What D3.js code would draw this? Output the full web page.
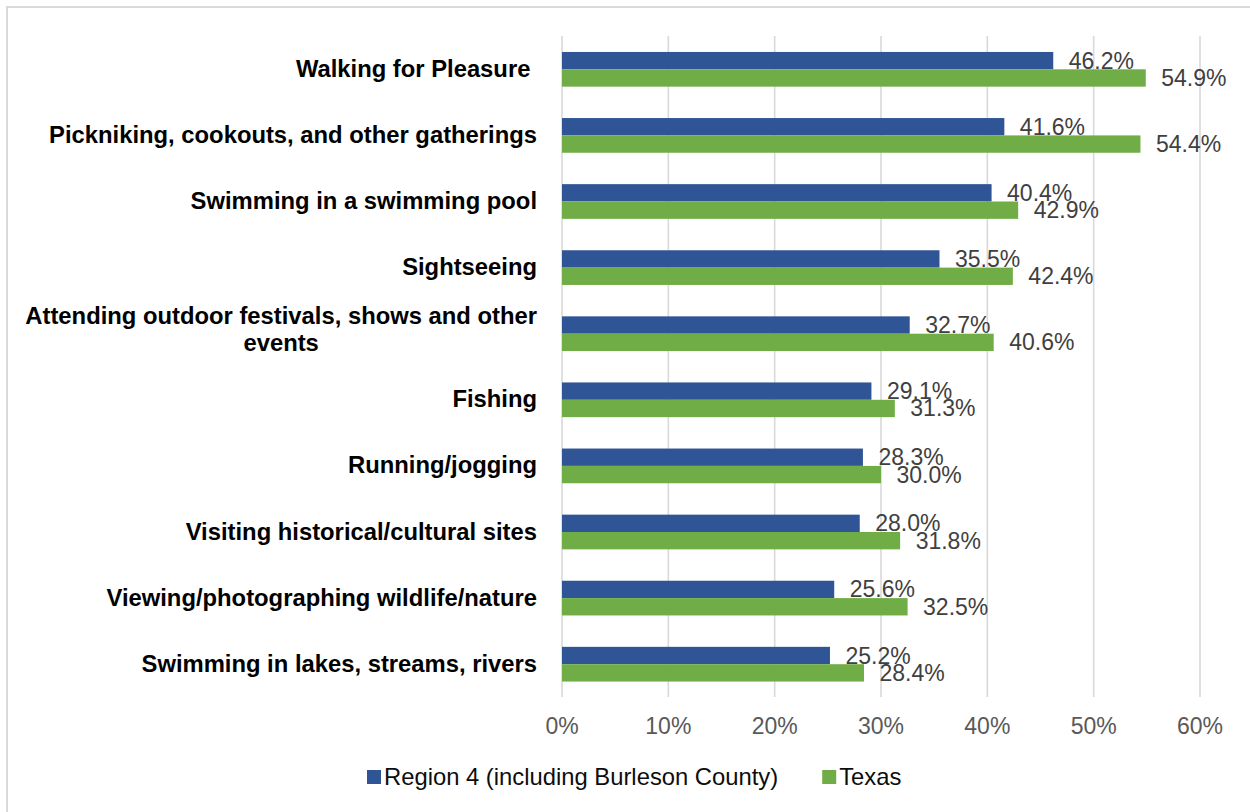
<!DOCTYPE html>
<html>
<head>
<meta charset="utf-8">
<script src="https://cdn.jsdelivr.net/npm/d3@7"></script>
<style>
  html, body { margin: 0; padding: 0; background: #fff; }
  svg { display: block; }
  text { font-family: "Liberation Sans", Arial, sans-serif; }
</style>
</head>
<body>
<svg id="chart" width="1250" height="812"></svg>
<script>
// Outdoor activities: share of respondents participating
const categories = [
  "Walking for Pleasure ",
  "Pickniking, cookouts, and other gatherings",
  "Swimming in a swimming pool",
  "Sightseeing",
  "Attending outdoor festivals, shows and other events",
  "Fishing",
  "Running/jogging",
  "Visiting historical/cultural sites",
  "Viewing/photographing wildlife/nature",
  "Swimming in lakes, streams, rivers"
];
const seriesNames = ["Region 4 (including Burleson County)", "Texas"];
const regionValues = [46.2, 41.6, 40.4, 35.5, 32.7, 29.1, 28.3, 28.0, 25.6, 25.2];
const texasValues  = [54.9, 54.4, 42.9, 42.4, 40.6, 31.3, 30.0, 31.8, 32.5, 28.4];
const xTicks = [0, 10, 20, 30, 40, 50, 60];

const colors = ["#2F5597", "#70AD47"];
const seriesValues = [regionValues, texasValues];

const svg = d3.select("#chart");
const W = 1250, H = 812;
const catFont = 23.8, legendFont = 23.8, valueFont = 23, tickFont = 23;

svg.append("rect").attr("width", W).attr("height", H).attr("fill", "#fff");
// chart frame
svg.append("rect")
  .attr("x", 7).attr("y", 7).attr("width", W).attr("height", H)
  .attr("fill", "none").attr("stroke", "#d9d9d9").attr("stroke-width", 2);

const x = d3.scaleLinear().domain([0, 60]).range([562, 1200]);
const y = d3.scaleBand().domain(categories)
  .range([36.25, 697.25]).paddingInner(0.475).paddingOuter(0.2375);
const ySub = d3.scaleBand().domain(seriesNames).range([0, y.bandwidth()]);

// vertical gridlines
svg.append("g").selectAll("line").data(xTicks).join("line")
  .attr("x1", d => x(d)).attr("x2", d => x(d))
  .attr("y1", 36).attr("y2", 697)
  .attr("stroke", "#d9d9d9").attr("stroke-width", 1.6);

// x tick labels
svg.append("g").selectAll("text").data(xTicks).join("text")
  .attr("x", d => x(d)).attr("y", 734)
  .attr("text-anchor", "middle")
  .attr("font-size", tickFont).attr("fill", "#595959")
  .text(d => d + "%");

// bars
seriesNames.forEach((s, si) => {
  const vals = seriesValues[si];
  svg.append("g").selectAll("rect").data(categories).join("rect")
    .attr("x", x(0))
    .attr("y", c => y(c) + ySub(s))
    .attr("width", (c, i) => x(vals[i]) - x(0))
    .attr("height", ySub.bandwidth())
    .attr("fill", colors[si]);
});

// value labels
seriesNames.forEach((s, si) => {
  const vals = seriesValues[si];
  svg.append("g").selectAll("text").data(categories).join("text")
    .attr("x", (c, i) => x(vals[i]) + 15.5)
    .attr("y", c => y(c) + ySub(s) + ySub.bandwidth() / 2 + 8)
    .attr("font-size", valueFont).attr("fill", "#404040")
    .text((c, i) => vals[i].toFixed(1) + "%");
});

// category labels, wrapped to the label column width
const labelRight = 537, labelMaxWidth = 520, lineHeight = 27.5;
const catG = svg.append("g");
categories.forEach(c => {
  const cy = y(c) + y.bandwidth() / 2;
  const probe = catG.append("text").attr("font-size", catFont).attr("font-weight", "bold")
    .style("white-space", "pre");
  const words = c.split(" ");
  const lines = [];
  let cur = "";
  words.forEach(w => {
    const trial = cur ? cur + " " + w : w;
    probe.text(trial);
    if (cur && probe.node().getComputedTextLength() > labelMaxWidth) {
      lines.push(cur);
      cur = w;
    } else {
      cur = trial;
    }
  });
  lines.push(cur);
  probe.remove();

  if (lines.length === 1) {
    catG.append("text")
      .attr("x", labelRight).attr("y", cy + 7.5)
      .attr("text-anchor", "end")
      .attr("font-size", catFont).attr("font-weight", "bold").attr("fill", "#000")
      .style("white-space", "pre")
      .text(lines[0]);
  } else {
    // multi-line labels are centred on the widest line, right-aligned as a block
    const tmp = catG.append("text").attr("font-size", catFont).attr("font-weight", "bold");
    const widths = lines.map(l => { tmp.text(l); return tmp.node().getComputedTextLength(); });
    tmp.remove();
    const blockW = d3.max(widths);
    const cx = labelRight - blockW / 2;
    const top = cy + 7.5 - (lines.length - 1) * lineHeight / 2 - 3.5;
    lines.forEach((l, li) => {
      catG.append("text")
        .attr("x", cx).attr("y", top + li * lineHeight)
        .attr("text-anchor", "middle")
        .attr("font-size", catFont).attr("font-weight", "bold").attr("fill", "#000")
        .text(l);
    });
  }
});

// legend
const legend = svg.append("g");
let lx = 367;
seriesNames.forEach((s, si) => {
  legend.append("rect")
    .attr("x", lx).attr("y", 770).attr("width", 14).attr("height", 14)
    .attr("fill", colors[si]);
  const t = legend.append("text")
    .attr("x", lx + 17).attr("y", 784.5)
    .attr("font-size", legendFont).attr("fill", "#0d0d0d")
    .text(s);
  lx += 17 + t.node().getComputedTextLength() + 44;
});
</script>
</body>
</html>
